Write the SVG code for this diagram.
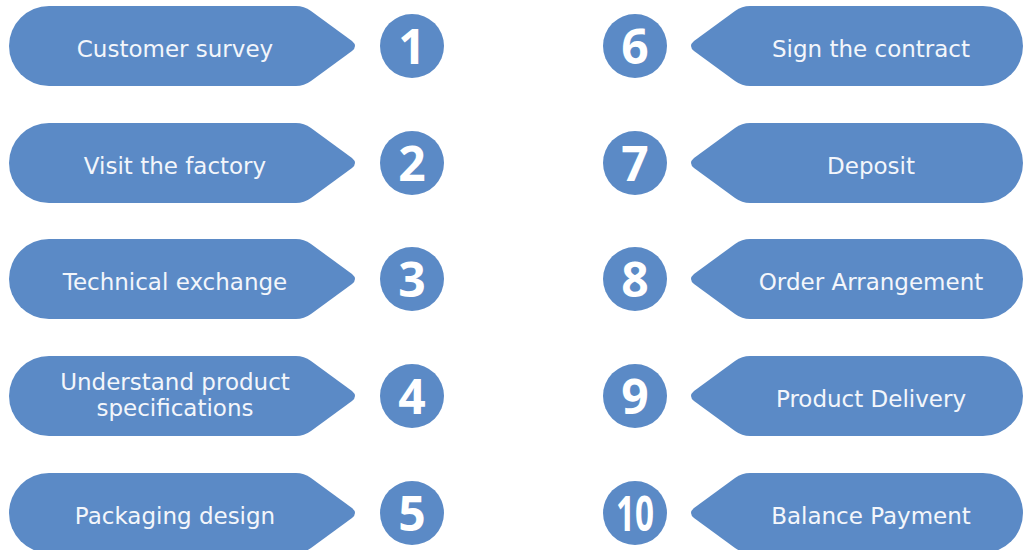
<svg xmlns="http://www.w3.org/2000/svg" xmlns:xlink="http://www.w3.org/1999/xlink" width="1026" height="550" viewBox="0 0 1026 550">
<style>
.shape{fill:#5b8ac6}
.badge{fill:#5b8ac6}
.lbl{font-family:"DejaVu Sans",Verdana,sans-serif;font-size:23px;fill:#f3f6fb;text-anchor:middle}
.num{font-family:"Open Sans","DejaVu Sans",sans-serif;font-size:48px;font-weight:700;fill:#ffffff;text-anchor:middle}
</style>
<defs>
<path id="L" d="M49,-40 H296 Q304,-40 311,-35 L352,-5 Q358,0 352,5 L311,35 Q304,40 296,40 H49 A40,40 0 0 1 49,-40 Z"/>
<path id="R" d="M983,-40 H750 Q742,-40 735,-35 L694,-5 Q688,0 694,5 L735,35 Q742,40 750,40 H983 A40,40 0 0 0 983,-40 Z"/>
</defs>
<rect width="1026" height="550" fill="#ffffff"/>
<g id="connectors"></g>
<g id="step1"><use xlink:href="#L" class="shape" y="46"/><text class="lbl" x="175" y="57">Customer survey</text><circle class="badge" cx="412" cy="46" r="32"/><text class="num" x="412" y="64">1</text></g>
<g id="step2"><use xlink:href="#L" class="shape" y="163"/><text class="lbl" x="175" y="174">Visit the factory</text><circle class="badge" cx="412" cy="163" r="32"/><text class="num" x="412" y="181">2</text></g>
<g id="step3"><use xlink:href="#L" class="shape" y="279"/><text class="lbl" x="175" y="290">Technical exchange</text><circle class="badge" cx="412" cy="279" r="32"/><text class="num" x="412" y="297">3</text></g>
<g id="step4"><use xlink:href="#L" class="shape" y="396"/><text class="lbl" x="175" y="390">Understand product</text><text class="lbl" x="175" y="416">specifications</text><circle class="badge" cx="412" cy="396" r="32"/><text class="num" x="412" y="414">4</text></g>
<g id="step5"><use xlink:href="#L" class="shape" y="513"/><text class="lbl" x="175" y="524">Packaging design</text><circle class="badge" cx="412" cy="513" r="32"/><text class="num" x="412" y="531">5</text></g>
<g id="step6"><use xlink:href="#R" class="shape" y="46"/><text class="lbl" x="871" y="57">Sign the contract</text><circle class="badge" cx="635" cy="46" r="32"/><text class="num" x="635" y="64">6</text></g>
<g id="step7"><use xlink:href="#R" class="shape" y="163"/><text class="lbl" x="871" y="174">Deposit</text><circle class="badge" cx="635" cy="163" r="32"/><text class="num" x="635" y="181">7</text></g>
<g id="step8"><use xlink:href="#R" class="shape" y="279"/><text class="lbl" x="871" y="290">Order Arrangement</text><circle class="badge" cx="635" cy="279" r="32"/><text class="num" x="635" y="297">8</text></g>
<g id="step9"><use xlink:href="#R" class="shape" y="396"/><text class="lbl" x="871" y="407">Product Delivery</text><circle class="badge" cx="635" cy="396" r="32"/><text class="num" x="635" y="414">9</text></g>
<g id="step10"><use xlink:href="#R" class="shape" y="513"/><text class="lbl" x="871" y="524">Balance Payment</text><circle class="badge" cx="635" cy="513" r="32"/><text class="num" x="635" y="531" textLength="38" lengthAdjust="spacingAndGlyphs">10</text></g>
</svg>
